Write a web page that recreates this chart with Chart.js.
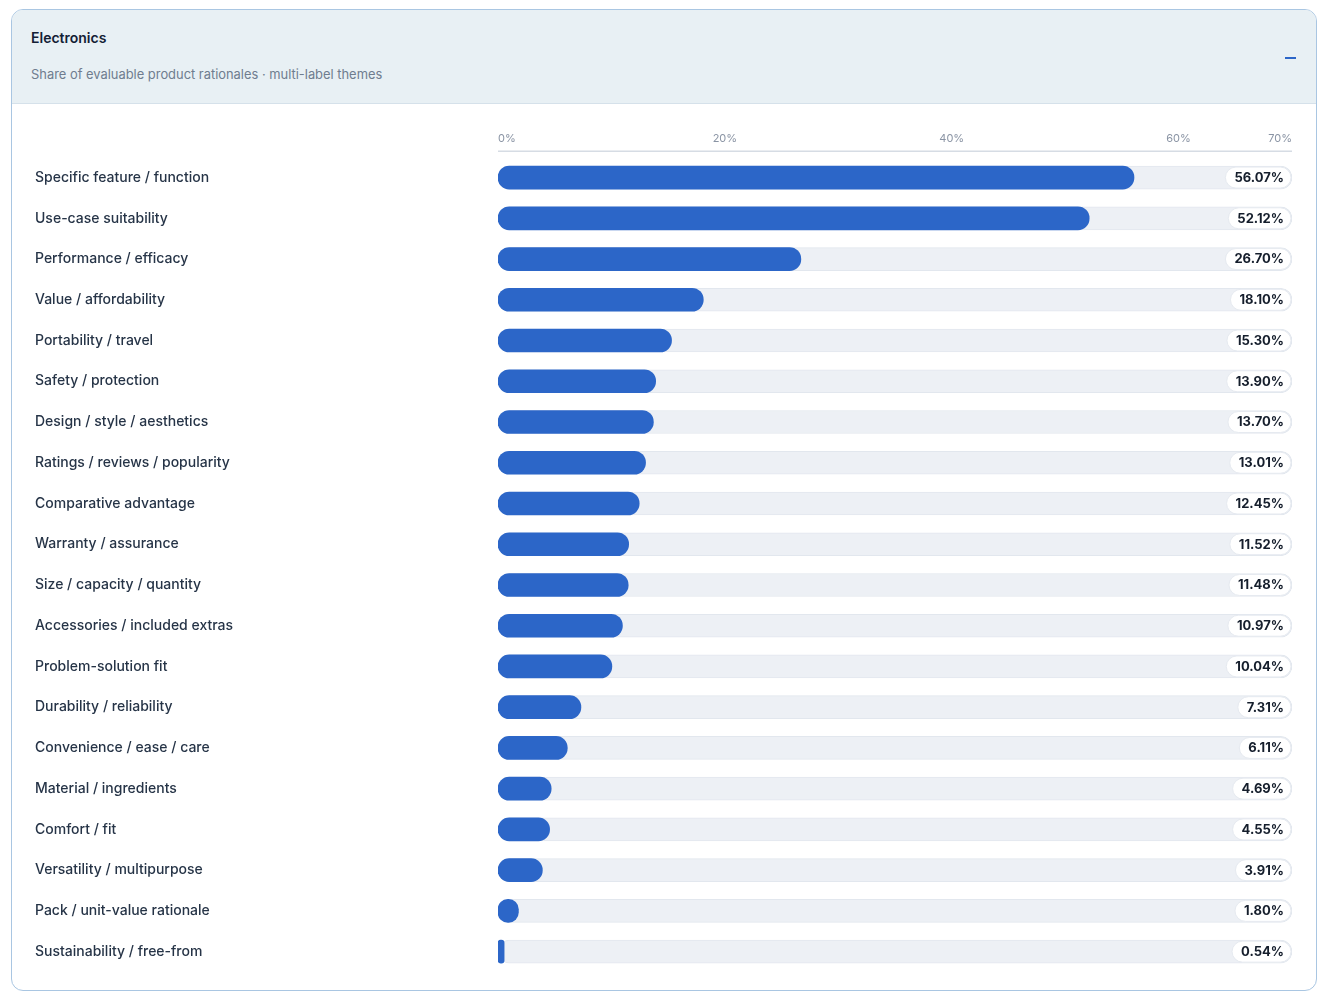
<!DOCTYPE html>
<html>
<head>
<meta charset="utf-8">
<script src="https://cdn.jsdelivr.net/npm/chart.js@4.4.1/dist/chart.umd.min.js"></script>
<style>
  html, body { margin: 0; padding: 0; background: #fff; }
  body { font-family: Inter, "Noto Sans", sans-serif; }
  .card {
    position: absolute; left: 11px; top: 9px; width: 1304px; height: 980px;
    border: 1px solid #a9c6e2; border-radius: 12px; overflow: hidden; background: #fff;
  }
  .head {
    height: 93px; background: #e8f0f4; border-bottom: 1px solid #d5e1ea; position: relative;
  }
  .title { position: absolute; left: 19px; top: 19px; font-size: 14px; font-weight: 600; color: #132035; }
  .sub { position: absolute; left: 19px; top: 57px; font-size: 12.9px; color: #6f7d8f; }
  .toggle { position: absolute; left: 1273px; top: 47px; width: 11px; height: 2px; background: #2c66c8; }
  .wrap { position: relative; width: 1304px; height: 886px; }
</style>
</head>
<body>
<div class="card">
  <div class="head">
    <div class="title">Electronics</div>
    <div class="sub">Share of evaluable product rationales · multi-label themes</div>
    <div class="toggle"></div>
  </div>
  <div class="wrap"><canvas id="themeChart"></canvas></div>
</div>
<script>
const categories = [
  "Specific feature / function",
  "Use-case suitability",
  "Performance / efficacy",
  "Value / affordability",
  "Portability / travel",
  "Safety / protection",
  "Design / style / aesthetics",
  "Ratings / reviews / popularity",
  "Comparative advantage",
  "Warranty / assurance",
  "Size / capacity / quantity",
  "Accessories / included extras",
  "Problem-solution fit",
  "Durability / reliability",
  "Convenience / ease / care",
  "Material / ingredients",
  "Comfort / fit",
  "Versatility / multipurpose",
  "Pack / unit-value rationale",
  "Sustainability / free-from"
];
const shares = [56.07, 52.12, 26.70, 18.10, 15.30, 13.90, 13.70, 13.01, 12.45, 11.52,
  11.48, 10.97, 10.04, 7.31, 6.11, 4.69, 4.55, 3.91, 1.80, 0.54];
const tickValues = [0, 20, 40, 60, 70];
const axisMax = 70;

const canvas = document.getElementById("themeChart");

// thin rule above the rows
const topRule = {
  id: "topRule",
  beforeDatasetsDraw(chart) {
    const x = chart.scales.x;
    const ctx = chart.ctx;
    ctx.save();
    ctx.strokeStyle = "#d6dce4";
    ctx.lineWidth = 1.5;
    ctx.beginPath();
    ctx.moveTo(x.left, chart.chartArea.top - 6);
    ctx.lineTo(x.right, chart.chartArea.top - 6);
    ctx.stroke();
    ctx.restore();
  }
};

// white value pills at the end of every track
const valueBadges = {
  id: "valueBadges",
  afterDatasetsDraw(chart) {
    const ctx = chart.ctx;
    const meta = chart.getDatasetMeta(1);
    ctx.save();
    ctx.font = "700 13px Inter, 'Noto Sans', sans-serif";
    ctx.textBaseline = "middle";
    ctx.textAlign = "right";
    meta.data.forEach((bar, i) => {
      const text = shares[i].toFixed(2) + "%";
      const w = ctx.measureText(text).width + 16;
      const h = 21;
      const right = bar.x - 1;
      const y = bar.y;
      ctx.fillStyle = "#ffffff";
      ctx.strokeStyle = "#e6eaf0";
      ctx.lineWidth = 1;
      ctx.beginPath();
      ctx.roundRect(right - w, y - h / 2, w, h, h / 2);
      ctx.fill();
      ctx.stroke();
      ctx.fillStyle = "#151e2c";
      ctx.fillText(text, right - 7, y + 0.5);
    });
    ctx.restore();
  }
};

new Chart(canvas, {
  type: "bar",
  data: {
    labels: categories,
    datasets: [
      {
        label: "Share",
        data: shares,
        backgroundColor: "#2c66c8",
        borderRadius: 12,
        borderSkipped: false,
        barThickness: 23,
        grouped: false,
        order: 0
      },
      {
        label: "Track",
        data: categories.map(() => axisMax),
        backgroundColor: "#edf0f5",
        borderColor: "#e2e7ee",
        borderWidth: 1,
        borderRadius: 12,
        borderSkipped: false,
        barThickness: 23,
        grouped: false,
        order: 1
      }
    ]
  },
  options: {
    indexAxis: "y",
    responsive: true,
    maintainAspectRatio: false,
    animation: false,
    layout: { padding: { left: 23, right: 24, top: 16, bottom: 18 } },
    plugins: { legend: { display: false }, tooltip: { enabled: false } },
    scales: {
      x: {
        position: "top",
        min: 0,
        max: axisMax,
        afterBuildTicks: (scale) => { scale.ticks = tickValues.map(v => ({ value: v })); },
        grid: { display: false, drawTicks: false },
        border: { display: false },
        ticks: {
          align: "inner",
          padding: 12,
          color: "#8a94a4",
          font: { family: "Inter", size: 11 },
          callback: (v) => v + "%"
        }
      },
      y: {
        afterFit: (scale) => { scale.width = 463; },
        grid: { display: false, drawTicks: false },
        border: { display: false },
        ticks: {
          crossAlign: "far",
          color: "#263447",
          font: { family: "Inter", size: 14, weight: 500 }
        }
      }
    }
  },
  plugins: [topRule, valueBadges]
});
</script>
</body>
</html>
